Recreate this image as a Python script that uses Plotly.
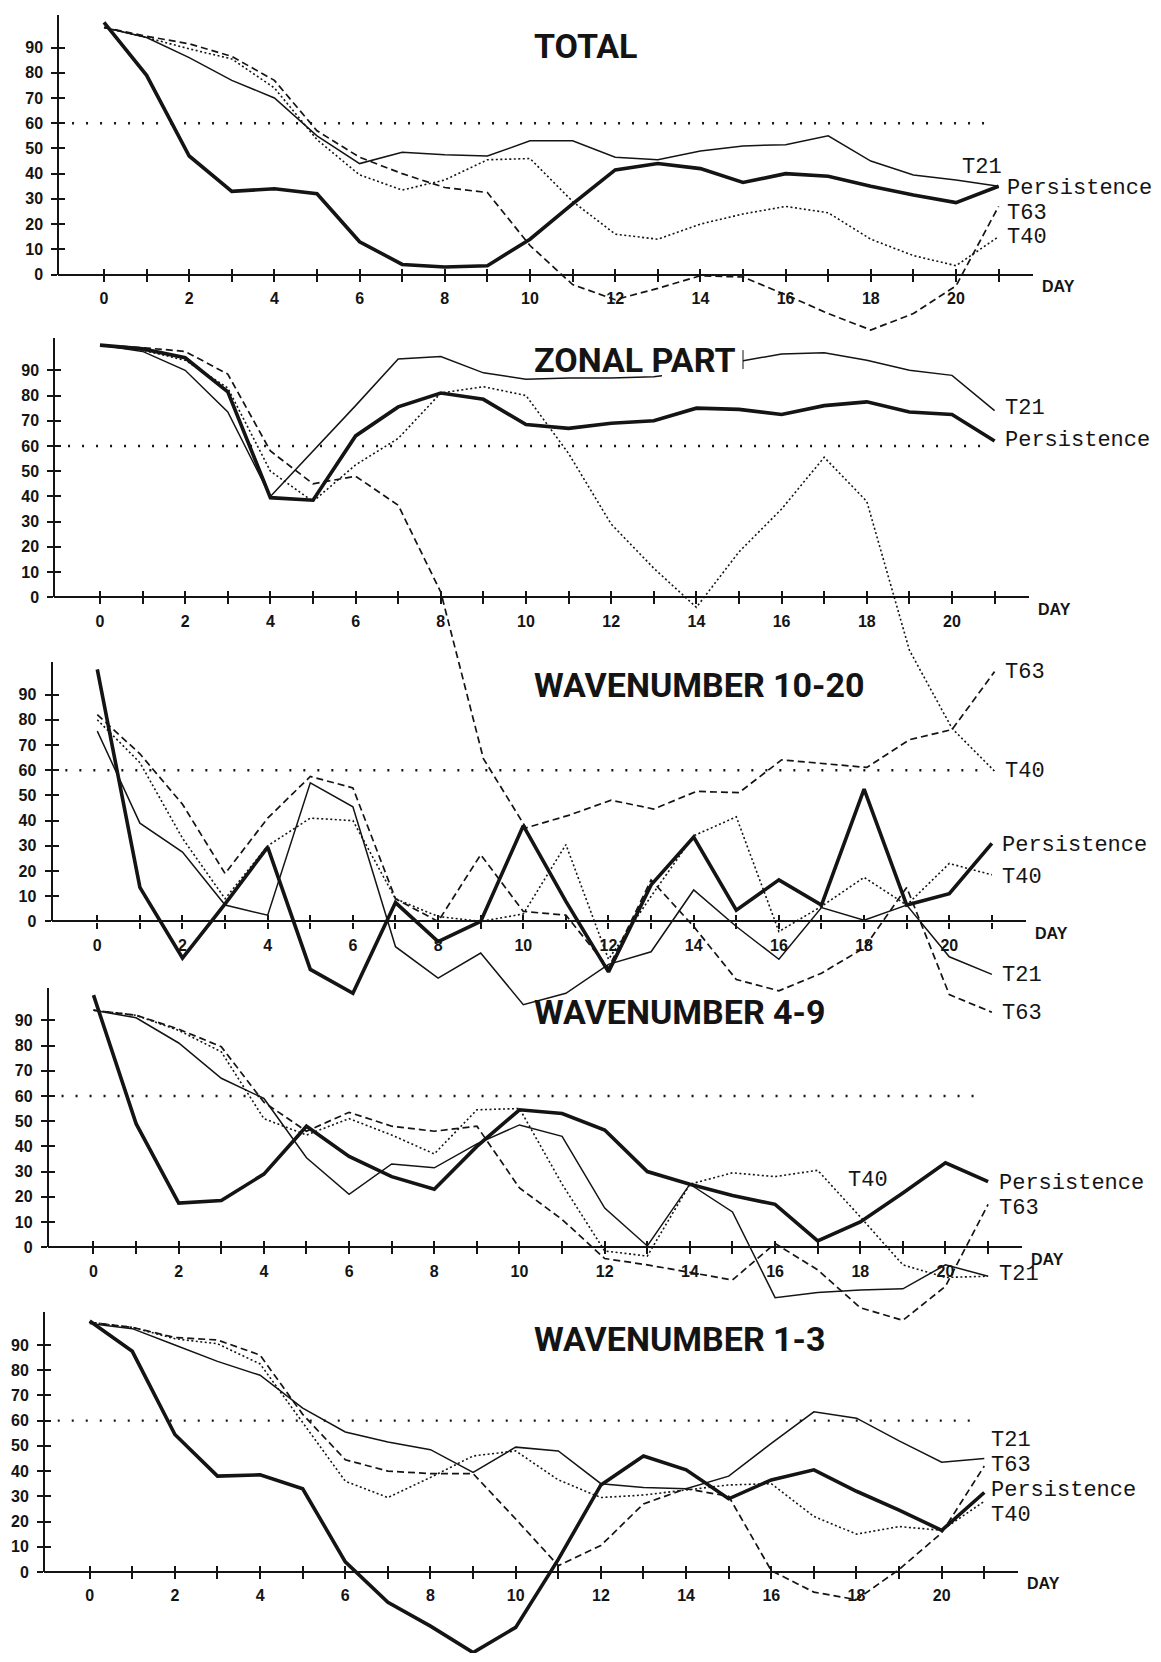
import plotly.graph_objects as go

# ---------------- data ----------------
DAYS = list(range(22))
SERIES = ["T21", "T40", "T63", "Persistence"]
PANEL_TITLES = ["TOTAL", "ZONAL PART", "WAVENUMBER 10-20", "WAVENUMBER 4-9", "WAVENUMBER 1-3"]
Y_TICKS = [0, 10, 20, 30, 40, 50, 60, 70, 80, 90]
X_TICKS = list(range(22))
X_TICK_LABELS = [str(d) if d % 2 == 0 else "" for d in X_TICKS]
THRESHOLD = 60

TOTAL_T21 = [98, 94, 86, 77, 70, 55, 44, 48.5, 47.5, 47, 53, 53, 46.5, 45.5, 49, 51, 51.5, 55, 45, 39.5, 37.5, 35]
TOTAL_T40 = [98, 94, 89.5, 85.5, 74, 53.5, 39.5, 33.5, 37.5, 45.5, 46, 29, 16, 14, 20, 24, 27, 24.5, 14, 7.5, 3.5, 15]
TOTAL_T63 = [98, 94.5, 91.5, 86.5, 77, 57, 46.5, 40, 34.5, 32.5, 11.5, -4, -10, -5.5, -0.5, -1, -8, -15.5, -22, -15.5, -4.5, 27]
TOTAL_PERS = [100, 79, 47, 33, 34, 32, 13, 4, 3, 3.5, 14, 28, 41.5, 44, 42, 36.5, 40, 39, 35, 31.5, 28.5, 35]

ZONAL_T21 = [100, 97.5, 90, 73.5, 40, 58, 76, 94.5, 95.5, 89, 86.5, 87, 87, 87.5, 89.5, 93.5, 96.5, 97, 94, 90, 88, 74]
ZONAL_T40 = [100, 98, 94, 83, 50, 38, 52.5, 63, 81, 83.5, 80, 57, 29, 11.5, -4, 18, 35, 55.5, 38, -21, -52, -69]
ZONAL_T63 = [100, 99, 97.5, 88.5, 58, 45, 48, 36.5, 2, -64, -91.5, -86.5, -80.5, -84, -77, -77.5, -64.5, -66, -67.5, -56.5, -52.5, -29.5]
ZONAL_PERS = [100, 98.5, 95, 81.5, 39.5, 38.5, 64, 75.5, 81, 78.5, 68.5, 67, 69, 70, 75, 74.5, 72.5, 76, 77.5, 73.5, 72.5, 62]

WN1020_T21 = [75.5, 39, 27.5, 6.5, 2.5, 55, 45.5, -10, -22.5, -12.5, -33, -28.5, -17, -12, 12.5, -2, -15, 5.5, 0.5, 6.5, -14, -21]
WN1020_T40 = [80, 63, 33, 9, 30, 41, 40, 9, 2, 0, 3, 30.5, -15, 10, 34, 41.5, -4, 6, 17.5, 6.5, 23, 18.5]
WN1020_T63 = [82, 66.5, 46.5, 19, 41, 57.5, 53, 9, 0, 26.5, 4, 2.5, -18.5, 16.5, -2, -23, -27.5, -20.5, -10.5, 13.5, -29, -36]
WN1020_PERS = [100, 13.5, -14.5, 7, 29.5, -19, -28.5, 7.5, -8, 0, 38, 8, -20, 14.5, 33.5, 4.5, 16.5, 6.5, 52.5, 6.5, 11, 31]

WN49_T21 = [94, 91, 81, 67, 59, 35.5, 21, 33, 31.5, 41, 48.5, 44, 15.5, 0.5, 25, 14, -20, -18, -17, -16.5, -7, -11.5]
WN49_T40 = [94, 92, 86, 77.5, 51, 44.5, 51, 44.5, 37, 54.5, 55, 25, -1.5, -3.5, 25, 29.5, 28, 30.5, 12, -7, -12, -11.5]
WN49_T63 = [94, 92, 86.5, 79.5, 57.5, 46, 53.5, 48, 46, 48, 23.5, 11, -4.5, -7, -10, -13, 1.5, -9, -24, -29, -15.5, 17]
WN49_PERS = [100, 49, 17.5, 18.5, 29, 48, 36, 28, 23, 40, 54.5, 53, 46.5, 30, 25, 20.5, 17, 2.5, 10, 21.5, 33.5, 26]

WN13_T21 = [98.5, 96.5, 90, 83.5, 78, 65, 55.5, 51.5, 48.5, 39.5, 49.5, 48, 35, 33.5, 33, 38, 51, 63.5, 61, 52, 43.5, 45]
WN13_T40 = [99, 97, 92.5, 90.5, 82.5, 59, 36, 29.5, 37.5, 46, 48, 36.5, 29.5, 30.5, 32.5, 34.5, 35, 22, 15, 18, 16.5, 28]
WN13_T63 = [99, 97, 93, 92, 86, 62.5, 44.5, 40, 39, 39, 21, 2.5, 10.5, 27, 33, 30, 0.5, -8, -11, 1, 15.5, 42]
WN13_PERS = [99.5, 87.5, 54.5, 38, 38.5, 33, 4, -12, -21.5, -32, -22, 5, 34.5, 46, 40.5, 29, 36.5, 40.5, 32, 24.5, 16.5, 31.5]

PANEL_DATA = [
    [TOTAL_T21, TOTAL_T40, TOTAL_T63, TOTAL_PERS],
    [ZONAL_T21, ZONAL_T40, ZONAL_T63, ZONAL_PERS],
    [WN1020_T21, WN1020_T40, WN1020_T63, WN1020_PERS],
    [WN49_T21, WN49_T40, WN49_T63, WN49_PERS],
    [WN13_T21, WN13_T40, WN13_T63, WN13_PERS],
]

# ---------------- layout / geometry ----------------
W, H = 1161, 1662
PX_PER_UNIT = 2.535
PX_PER_DAY = 42.6
ZERO_PX = [276.0, 600.5, 926.5, 1254.0, 1580.5]
DAY0_PX = [104.0, 100.0, 97.3, 93.5, 89.7]
Y_MIN = [-26, -97, -46, -34, -40]
Y_TOP = 103
X_LEFT, X_RIGHT = -1.07, 21.8
TITLE_LEFT_PX = 532
TITLE_Y_PX = [46.7, 362.0, 689.0, 1017.5, 1346.5]

# end labels: (text, x in days, y in data units of that panel)
LABELS = [
    [("T21", 20.1, 42.5), ("Persistence", 21.15, 34.2), ("T63", 21.15, 24.3), ("T40", 21.15, 14.5)],
    [("T21", 21.2, 74.7), ("Persistence", 21.2, 62.2), ("T63", 21.2, -29.9), ("T40", 21.2, -69.1)],
    [("Persistence", 21.2, 30.0), ("T40", 21.2, 17.5), ("T21", 21.2, -21.3), ("T63", 21.2, -36.4)],
    [("T40", 17.66, 26.4), ("Persistence", 21.2, 25.1), ("T63", 21.2, 15.3), ("T21", 21.2, -11.0)],
    [("T21", 21.1, 52.2), ("T63", 21.1, 42.3), ("Persistence", 21.1, 32.4), ("T40", 21.1, 22.4)],
]

INK = "#141414"
STYLES = {
    "T21": dict(width=1.5, dash="solid"),
    "T40": dict(width=1.6, dash="2px,2.5px"),
    "T63": dict(width=1.7, dash="7px,4px"),
    "Persistence": dict(width=3.6, dash="solid"),
}
TICK_FONT = dict(family="Liberation Sans, Arial, sans-serif", size=16, color=INK, weight="bold")
TITLE_FONT = dict(family="Roboto, Liberation Sans, sans-serif", size=34, color=INK)
LABEL_FONT = dict(family="Liberation Mono, Courier New, monospace", size=22, color=INK)

fig = go.Figure()
layout = dict(
    width=W, height=H, autosize=False,
    margin=dict(l=0, r=0, t=0, b=0, pad=0),
    paper_bgcolor="white", plot_bgcolor="rgba(0,0,0,0)",
    showlegend=False,
)
annotations = []
shapes = []


def px_x(p):
    return p / W


def px_y(p):
    return 1 - p / H


for i in range(5):
    xa, xo = 2 * i + 1, 2 * i + 2
    ya, yv, yo = 3 * i + 1, 3 * i + 2, 3 * i + 3
    xa_n = "x" if xa == 1 else f"x{xa}"
    xo_n, ya_n, yv_n, yo_n = f"x{xo}", ("y" if ya == 1 else f"y{ya}"), f"y{yv}", f"y{yo}"

    zero = ZERO_PX[i]
    top_px = zero - Y_TOP * PX_PER_UNIT
    bot_px = min(H, zero - Y_MIN[i] * PX_PER_UNIT)
    ymin = -(bot_px - zero) / PX_PER_UNIT
    xl_px = DAY0_PX[i] + X_LEFT * PX_PER_DAY
    xr_px = DAY0_PX[i] + X_RIGHT * PX_PER_DAY

    xdom = [px_x(xl_px), px_x(xr_px)]
    p0 = px_y(zero)

    layout[f"xaxis{'' if xa == 1 else xa}"] = dict(
        domain=xdom, range=[X_LEFT, X_RIGHT], anchor="free", position=p0,
        showline=True, linewidth=2.2, linecolor=INK, ticks="outside", ticklen=6,
        tickwidth=1.8, tickcolor=INK, tickmode="array", tickvals=X_TICKS, ticktext=X_TICK_LABELS,
        tickfont=TICK_FONT, ticklabelstandoff=3, showgrid=False, zeroline=False, fixedrange=True,
    )
    layout[f"xaxis{xo}"] = dict(
        overlaying=xa_n, range=[X_LEFT, X_RIGHT], anchor="free", position=p0,
        showline=False, ticks="inside", ticklen=6, tickwidth=1.8, tickcolor=INK,
        tickmode="array", tickvals=X_TICKS, showticklabels=False, showgrid=False, zeroline=False,
    )
    layout[f"yaxis{'' if ya == 1 else ya}"] = dict(
        domain=[px_y(bot_px), px_y(top_px)], range=[ymin, Y_TOP], anchor=xa_n,
        visible=False, showgrid=False, zeroline=False, fixedrange=True,
    )
    layout[f"yaxis{yv}"] = dict(
        domain=[p0, px_y(top_px)], range=[0, Y_TOP], anchor="free", position=xdom[0],
        showline=True, linewidth=2.2, linecolor=INK, ticks="outside", ticklen=6, tickwidth=1.8,
        tickcolor=INK, tickmode="array", tickvals=Y_TICKS, ticktext=[str(v) for v in Y_TICKS],
        tickfont=TICK_FONT, ticklabelstandoff=5, showgrid=False, zeroline=False,
    )
    layout[f"yaxis{yo}"] = dict(
        overlaying=yv_n, range=[0, Y_TOP], anchor="free", position=xdom[0],
        showline=False, ticks="inside", ticklen=6, tickwidth=1.8, tickcolor=INK,
        tickmode="array", tickvals=Y_TICKS, showticklabels=False, showgrid=False, zeroline=False,
    )

    # series
    for name, vals in zip(SERIES, PANEL_DATA[i]):
        st = STYLES[name]
        fig.add_trace(go.Scatter(
            x=DAYS, y=vals, mode="lines", name=name, xaxis=xa_n, yaxis=ya_n,
            line=dict(color=INK, width=st["width"], dash=st["dash"]),
            hoverinfo="skip",
        ))
    # empty helper traces so the extra axes are drawn
    for xn, yn in [(xa_n, yv_n), (xa_n, yo_n), (xo_n, ya_n)]:
        fig.add_trace(go.Scatter(x=[], y=[], xaxis=xn, yaxis=yn, mode="lines", hoverinfo="skip"))

    # 60 % threshold, dotted
    shapes.append(dict(type="line", xref=xa_n, yref=ya_n, x0=-0.75, x1=20.85, y0=THRESHOLD, y1=THRESHOLD,
                       line=dict(color=INK, width=2.4, dash="2px,12px")))

    # DAY label just past the end of the axis
    annotations.append(dict(text="DAY", xref=xa_n, yref=ya_n, x=X_RIGHT, y=0, xanchor="left", yanchor="middle",
                            xshift=7, yshift=-12, showarrow=False, font=TICK_FONT))
    # title
    annotations.append(dict(text=f"<b>{PANEL_TITLES[i]}</b>", xref="paper", yref="paper",
                            x=px_x(TITLE_LEFT_PX), y=px_y(TITLE_Y_PX[i]), xanchor="left", yanchor="middle",
                            showarrow=False, font=TITLE_FONT))
    # end labels
    for txt, lx, ly in LABELS[i]:
        annotations.append(dict(text=txt, xref=xa_n, yref=ya_n, x=lx, y=ly, xanchor="left", yanchor="middle",
                                showarrow=False, font=LABEL_FONT))

# paste-up box behind "PART" in the zonal panel title (hides the line there, with its edge mark)
shapes.append(dict(type="rect", xref="paper", yref="paper", layer="above",
                   x0=px_x(662), x1=px_x(743), y0=px_y(386), y1=px_y(344),
                   fillcolor="white", line=dict(width=0)))
shapes.append(dict(type="line", xref="paper", yref="paper", layer="above",
                   x0=px_x(743), x1=px_x(743), y0=px_y(371), y1=px_y(352),
                   line=dict(color=INK, width=1)))

layout["annotations"] = annotations
layout["shapes"] = shapes
fig.update_layout(**layout)
fig.write_html("out.html")
